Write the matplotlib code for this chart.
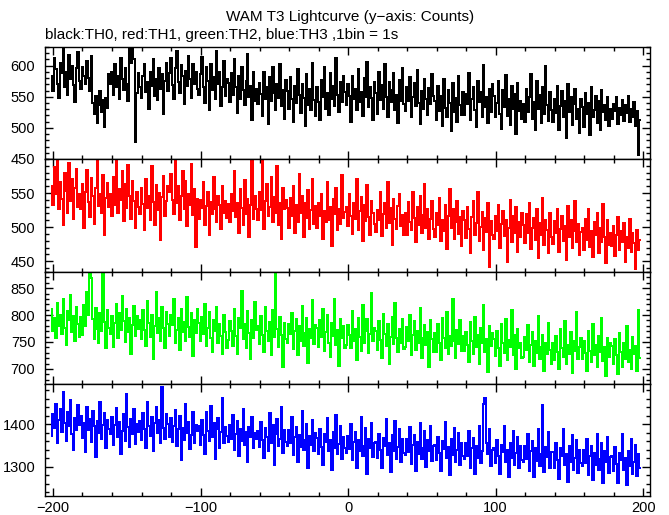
import numpy as np
import matplotlib
matplotlib.use('Agg')
from matplotlib import pyplot as plt
from matplotlib.ticker import MultipleLocator

plt.rcParams['font.family'] = ['Liberation Sans', 'DejaVu Sans']

title = 'WAM T3 Lightcurve (y\u2212axis: Counts)'
subtitle = 'black:TH0, red:TH1, green:TH2, blue:TH3 ,1bin = 1s'

# first bin of every light curve (seconds), 1 bin = 1 s
t_start = -201

# TH0 counts per bin (black)
th0 = [
    583, 560, 612, 595, 571, 548, 604, 588, 629, 566, 590, 553, 617, 578, 600, 569, 541, 596, 622, 575,
    562, 598, 584, 571, 607, 580, 559, 615, 540, 523, 551, 508, 537, 560, 526, 545, 501, 548, 532, 586,
    571, 590, 553, 602, 566, 584, 547, 612, 579, 561, 596, 570, 543, 628, 605, 631, 610, 478, 556, 589,
    565, 548, 583, 602, 557, 574, 531, 590, 568, 611, 552, 579, 545, 597, 563, 586, 522, 575, 604, 559,
    588, 612, 569, 547, 596, 623, 574, 556, 601, 583, 539, 592, 567, 615, 578, 548, 603, 571, 590, 562,
    553, 587, 614, 566, 540, 598, 575, 529, 603, 561, 582, 547, 624, 571, 590, 535, 566, 608, 552, 579,
    572, 541, 589, 553, 610, 566, 524, 583, 547, 598, 561, 536, 575, 619, 550, 568, 512, 590, 544, 563,
    538, 572, 554, 519, 590, 547, 565, 506, 581, 543, 598, 556, 529, 570, 548, 603, 535, 561, 515, 577,
    559, 531, 582, 547, 509, 568, 540, 595, 553, 524, 571, 548, 503, 586, 537, 562, 528, 605, 545, 519,
    566, 542, 513, 577, 550, 598, 531, 556, 520, 589, 547, 568, 535, 612, 553, 526, 574, 541, 583, 558,
    537, 571, 552, 509, 584, 546, 563, 528, 595, 541, 557, 519, 580, 549, 606, 534, 565, 548, 512, 573,
    556, 523, 590, 545, 569, 531, 602, 550, 517, 574, 542, 561, 588, 529, 553, 508, 577, 544, 596, 538,
    527, 566, 543, 581, 518, 549, 572, 535, 593, 540, 506, 559, 531, 578, 546, 521, 564, 538, 587, 552,
    544, 512, 568, 527, 551, 503, 579, 532, 518, 561, 540, 495, 572, 525, 548, 510, 584, 536, 520, 557,
    521, 555, 538, 589, 512, 547, 566, 529, 502, 575, 541, 558, 517, 601, 533, 549, 508, 562, 526, 570,
    552, 517, 540, 576, 523, 498, 561, 534, 585, 519, 546, 505, 568, 531, 554, 490, 572, 527, 543, 515,
    538, 509, 563, 526, 549, 587, 514, 541, 496, 575, 530, 553, 508, 566, 522, 599, 537, 511, 558, 529,
    509, 547, 524, 568, 497, 535, 559, 518, 544, 483, 571, 526, 550, 505, 539, 562, 514, 530, 491, 546,
    533, 501, 556, 522, 540, 489, 565, 517, 529, 552, 508, 544, 497, 561, 525, 536, 512, 549, 503, 530,
    514, 538, 527, 549, 506, 532, 520, 545, 511, 537, 524, 552, 509, 530, 518, 541, 503, 527, 456, 512,
]

# TH1 counts per bin (red)
th1 = [
    561, 532, 588, 549, 600, 527, 566, 541, 503, 579, 553, 520, 594, 538, 571, 512, 557, 585, 530, 548,
    526, 563, 498, 551, 584, 537, 515, 572, 546, 505, 558, 597, 531, 549, 520, 576, 488, 543, 565, 529,
    548, 517, 574, 533, 600, 521, 556, 540, 582, 509, 563, 528, 591, 545, 512, 567, 538, 499, 552, 530,
    519, 557, 534, 495, 571, 528, 546, 511, 589, 537, 503, 562, 525, 550, 481, 544, 575, 516, 538, 560,
    552, 578, 540, 519, 597, 536, 560, 510, 545, 583, 527, 567, 501, 549, 532, 593, 518, 556, 471, 541,
    512, 540, 528, 566, 503, 531, 552, 489, 537, 519, 574, 526, 508, 545, 533, 497, 561, 521, 539, 514,
    534, 507, 548, 523, 582, 515, 536, 492, 556, 528, 503, 569, 519, 541, 486, 532, 598, 512, 545, 526,
    510, 551, 525, 600, 497, 538, 563, 516, 530, 574, 508, 544, 521, 589, 503, 535, 482, 557, 526, 540,
    528, 499, 543, 517, 561, 492, 532, 508, 578, 521, 546, 485, 536, 513, 554, 497, 525, 570, 504, 531,
    498, 535, 516, 549, 483, 524, 507, 566, 511, 530, 472, 541, 519, 558, 495, 527, 504, 576, 513, 522,
    529, 501, 548, 517, 490, 536, 512, 571, 496, 523, 544, 480, 532, 509, 562, 515, 489, 538, 521, 505,
    493, 525, 511, 552, 487, 519, 535, 498, 566, 506, 528, 474, 541, 512, 497, 531, 549, 502, 518, 488,
    520, 489, 537, 508, 495, 551, 514, 478, 529, 503, 545, 491, 518, 563, 499, 526, 482, 512, 538, 497,
    486, 521, 503, 542, 479, 510, 494, 533, 468, 517, 556, 498, 527, 483, 508, 539, 490, 515, 472, 524,
    511, 484, 529, 497, 462, 515, 538, 489, 506, 551, 479, 500, 522, 467, 513, 493, 535, 442, 509, 488,
    482, 517, 494, 533, 470, 505, 524, 487, 511, 448, 499, 540, 478, 516, 492, 529, 463, 507, 486, 521,
    503, 477, 519, 492, 536, 468, 498, 514, 481, 527, 455, 506, 489, 543, 474, 511, 495, 462, 520, 485,
    475, 509, 491, 526, 463, 497, 517, 480, 502, 452, 531, 486, 510, 470, 494, 539, 478, 505, 459, 493,
    498, 466, 512, 481, 527, 471, 494, 456, 507, 488, 520, 462, 499, 478, 534, 485, 447, 510, 474, 492,
    472, 501, 458, 489, 515, 467, 494, 478, 506, 449, 486, 470, 512, 463, 491, 477, 438, 495, 466, 481,
]

# TH2 counts per bin (green)
th2 = [
    812, 771, 795, 758, 823, 780, 801, 764, 829, 776, 745, 808, 790, 837, 768, 799, 752, 815, 783, 760,
    796, 763, 818, 779, 842, 801, 885, 868, 792, 756, 813, 774, 749, 803, 770, 882, 787, 738, 809, 776,
    764, 798, 741, 785, 820, 757, 803, 772, 836, 789, 750, 812, 768, 795, 727, 782, 816, 761, 799, 774,
    791, 755, 810, 773, 742, 826, 786, 760, 801, 718, 779, 843, 767, 794, 752, 815, 776, 739, 805, 783,
    762, 800, 781, 829, 748, 773, 795, 736, 811, 769, 787, 752, 834, 778, 759, 803, 724, 790, 766, 812,
    786, 751, 797, 764, 820, 743, 776, 806, 758, 732, 791, 771, 815, 749, 783, 762, 727, 800, 768, 738,
    753, 789, 770, 742, 812, 761, 728, 795, 776, 844, 755, 783, 739, 807, 767, 719, 790, 758, 824, 772,
    780, 746, 799, 763, 731, 815, 771, 752, 788, 725, 809, 760, 876, 774, 741, 797, 763, 703, 785, 756,
    748, 783, 765, 804, 737, 770, 792, 726, 779, 751, 817, 743, 766, 795, 711, 774, 758, 828, 747, 781,
    776, 741, 790, 759, 812, 734, 768, 801, 749, 723, 785, 762, 830, 744, 773, 706, 792, 757, 779, 738,
    745, 781, 763, 739, 808, 752, 774, 716, 795, 760, 733, 818, 748, 770, 792, 729, 764, 841, 751, 776,
    771, 736, 789, 754, 720, 802, 765, 742, 783, 709, 760, 797, 746, 822, 758, 731, 775, 749, 793, 737,
    740, 778, 752, 801, 726, 763, 789, 735, 770, 748, 814, 721, 757, 782, 744, 768, 703, 791, 755, 732,
    767, 731, 784, 749, 716, 795, 758, 738, 805, 727, 761, 743, 829, 752, 720, 773, 746, 790, 734, 761,
    733, 769, 745, 712, 788, 751, 727, 797, 740, 763, 709, 776, 748, 818, 731, 755, 694, 779, 742, 766,
    756, 724, 771, 739, 705, 783, 748, 730, 792, 717, 754, 741, 810, 726, 763, 700, 775, 738, 749, 721,
    722, 759, 735, 781, 713, 744, 769, 706, 752, 730, 798, 718, 741, 763, 697, 748, 727, 785, 735, 710,
    749, 716, 762, 731, 700, 774, 738, 722, 789, 709, 745, 727, 768, 693, 751, 734, 805, 719, 740, 757,
    718, 751, 729, 696, 770, 734, 712, 783, 726, 745, 703, 762, 731, 794, 715, 740, 687, 757, 723, 748,
    742, 710, 756, 725, 691, 767, 731, 704, 748, 719, 779, 712, 736, 699, 760, 727, 742, 696, 810, 720,
]

# TH3 counts per bin (blue)
th3 = [
    1372, 1425, 1391, 1448, 1356, 1410, 1437, 1382, 1475, 1403, 1361, 1429, 1395, 1458, 1377, 1340, 1415, 1386, 1446, 1398,
    1419, 1368, 1402, 1335, 1441, 1387, 1413, 1358, 1432, 1396, 1322, 1408, 1380, 1452, 1365, 1399, 1427, 1344, 1411, 1390,
    1376, 1417, 1352, 1398, 1439, 1369, 1406, 1330, 1385, 1424, 1361, 1472, 1393, 1347, 1412, 1378, 1435, 1354, 1401, 1383,
    1408, 1363, 1426, 1389, 1345, 1453, 1397, 1372, 1418, 1336, 1402, 1440, 1379, 1411, 1355, 1488, 1391, 1366, 1424, 1400,
    1371, 1414, 1358, 1397, 1433, 1349, 1388, 1420, 1315, 1392, 1363, 1447, 1380, 1406, 1341, 1375, 1429, 1357, 1399, 1384,
    1396, 1352, 1410, 1375, 1331, 1428, 1384, 1360, 1443, 1369, 1402, 1318, 1388, 1415, 1345, 1381, 1463, 1357, 1394, 1372,
    1358, 1399, 1366, 1421, 1340, 1378, 1407, 1325, 1389, 1361, 1436, 1351, 1383, 1312, 1394, 1370, 1418, 1343, 1380, 1365,
    1384, 1347, 1405, 1362, 1320, 1391, 1371, 1338, 1426, 1356, 1398, 1305, 1377, 1413, 1350, 1366, 1441, 1333, 1387, 1359,
    1349, 1386, 1355, 1418, 1328, 1369, 1393, 1311, 1375, 1346, 1432, 1340, 1364, 1401, 1296, 1372, 1352, 1409, 1337, 1380,
    1368, 1331, 1389, 1347, 1304, 1376, 1358, 1415, 1336, 1362, 1292, 1381, 1345, 1423, 1329, 1354, 1397, 1318, 1371, 1343,
    1333, 1372, 1341, 1400, 1315, 1359, 1382, 1298, 1364, 1337, 1417, 1325, 1350, 1391, 1284, 1366, 1343, 1404, 1322, 1356,
    1359, 1320, 1378, 1339, 1297, 1368, 1350, 1412, 1328, 1355, 1287, 1374, 1336, 1408, 1318, 1347, 1389, 1311, 1365, 1333,
    1327, 1366, 1335, 1393, 1307, 1352, 1375, 1291, 1359, 1330, 1404, 1319, 1344, 1385, 1299, 1362, 1337, 1396, 1314, 1350,
    1352, 1316, 1371, 1333, 1290, 1360, 1342, 1405, 1320, 1347, 1281, 1365, 1328, 1392, 1310, 1339, 1379, 1303, 1356, 1325,
    1318, 1357, 1326, 1384, 1298, 1343, 1368, 1283, 1350, 1321, 1395, 1309, 1336, 1447, 1463, 1355, 1331, 1388, 1302, 1340,
    1345, 1309, 1363, 1326, 1282, 1352, 1335, 1397, 1312, 1340, 1275, 1357, 1321, 1384, 1303, 1332, 1371, 1296, 1348, 1317,
    1311, 1350, 1319, 1377, 1291, 1336, 1360, 1276, 1343, 1314, 1388, 1302, 1329, 1446, 1288, 1347, 1322, 1381, 1296, 1334,
    1335, 1298, 1356, 1315, 1272, 1343, 1326, 1388, 1303, 1331, 1265, 1348, 1312, 1375, 1293, 1320, 1362, 1285, 1339, 1308,
    1301, 1340, 1309, 1366, 1281, 1326, 1350, 1268, 1333, 1304, 1378, 1292, 1319, 1357, 1262, 1337, 1312, 1371, 1286, 1324,
    1325, 1289, 1347, 1306, 1262, 1333, 1316, 1378, 1293, 1321, 1256, 1338, 1302, 1365, 1283, 1311, 1352, 1277, 1329, 1298,
]

series = [th0, th1, th2, th3]
colors = ['black', 'red', '#00ff00', 'blue']
ylims = [(450, 630), (434, 600), (672, 880), (1231, 1495)]
yticks = [[450, 500, 550, 600], [450, 500, 550], [700, 750, 800, 850], [1300, 1400]]
yminor = [10, 10, 10, 20]

fig = plt.figure(figsize=(6.69, 5.15), dpi=100)

left, width = 0.0673, 0.9043
edges = [0.9087, 0.6913, 0.4718, 0.2544, 0.0369]

for i, y in enumerate(series):
    ax = fig.add_axes([left, edges[i + 1], width, edges[i] - edges[i + 1]])
    t = np.arange(len(y)) + t_start
    ax.plot(t, y, drawstyle='steps-mid', color=colors[i], lw=1.4,
            antialiased=False)
    ax.set_xlim(-205.4, 204.7)
    ax.set_ylim(*ylims[i])
    ax.set_yticks(yticks[i])
    ax.yaxis.set_minor_locator(MultipleLocator(yminor[i]))
    ax.xaxis.set_major_locator(MultipleLocator(100))
    ax.xaxis.set_minor_locator(MultipleLocator(20))
    ax.tick_params(which='both', direction='in', top=True, right=True,
                   labelsize=10.5, width=1, color='black')
    ax.tick_params(which='major', length=6)
    ax.tick_params(which='minor', length=3)
    ax.tick_params(axis='y', pad=7)
    for s in ax.spines.values():
        s.set_linewidth(1)
    if i < 3:
        ax.tick_params(labelbottom=False)

fig.text(0.523, 0.967, title, ha='center', va='center', fontsize=11)
fig.text(0.067, 0.932, subtitle, ha='left', va='center', fontsize=11)

fig.savefig('out.png', dpi=100)
